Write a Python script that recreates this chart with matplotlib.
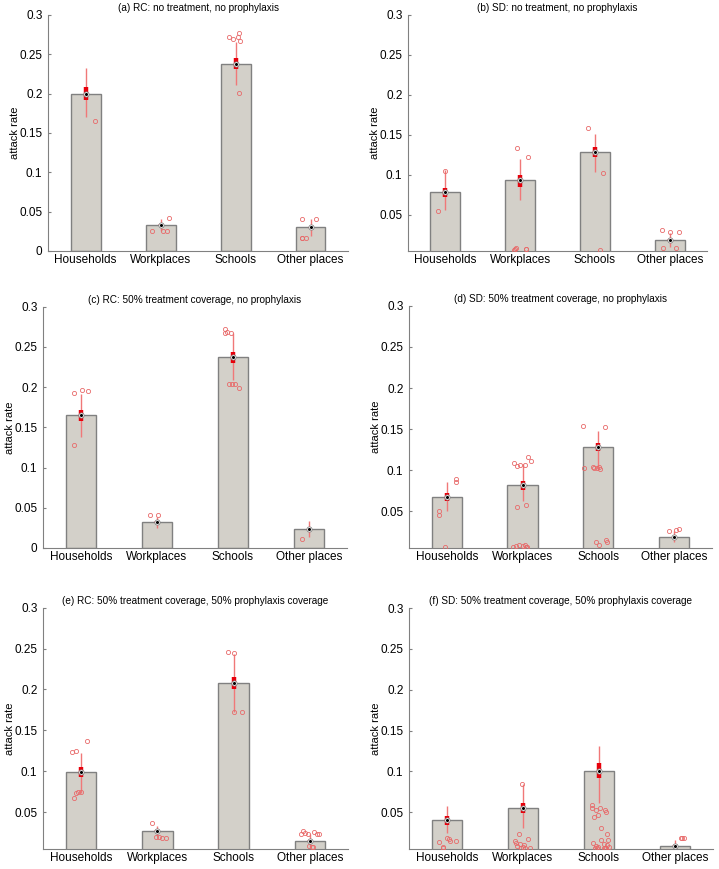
import matplotlib.pyplot as plt

plt.rcParams['font.family'] = ['Liberation Sans', 'DejaVu Sans']

places = ['Households', 'Workplaces', 'Schools', 'Other places']

titles = [
    '(a) RC: no treatment, no prophylaxis',
    '(b) SD: no treatment, no prophylaxis',
    '(c) RC: 50% treatment coverage, no prophylaxis',
    '(d) SD: 50% treatment coverage, no prophylaxis',
    '(e) RC: 50% treatment coverage, 50% prophylaxis coverage',
    '(f) SD: 50% treatment coverage, 50% prophylaxis coverage',
]

# medians (bar heights), box quartiles and whisker ends per panel
medians = [
    [0.200, 0.0335, 0.238, 0.030],
    [0.0783, 0.0933, 0.129, 0.0188],
    [0.165, 0.032, 0.2378, 0.0232],
    [0.0674, 0.0812, 0.128, 0.0178],
    [0.0989, 0.0272, 0.2084, 0.0154],
    [0.0406, 0.0553, 0.101, 0.0092],
]
q_low = [
    [0.192, 0.0325, 0.231, 0.029],
    [0.0729, 0.0854, 0.123, 0.0180],
    [0.158, 0.031, 0.230, 0.0225],
    [0.0626, 0.0755, 0.123, 0.0170],
    [0.0928, 0.0265, 0.2002, 0.0148],
    [0.0345, 0.0488, 0.0917, 0.0088],
]
q_high = [
    [0.208, 0.0345, 0.245, 0.031],
    [0.0833, 0.100, 0.135, 0.0195],
    [0.172, 0.033, 0.244, 0.0240],
    [0.0715, 0.0865, 0.133, 0.0185],
    [0.1058, 0.028, 0.2157, 0.0160],
    [0.0455, 0.0618, 0.110, 0.0096],
]
whisk_low = [
    [0.170, 0.026, 0.211, 0.0187],
    [0.056, 0.069, 0.104, 0.0096],
    [0.138, 0.0253, 0.209, 0.0137],
    [0.0504, 0.062, 0.100, 0.0119],
    [0.0732, 0.0203, 0.173, 0.008],
    [0.0243, 0.0304, 0.0618, 0.008],
]
whisk_high = [
    [0.232, 0.041, 0.266, 0.041],
    [0.106, 0.120, 0.151, 0.027],
    [0.192, 0.0386, 0.267, 0.0336],
    [0.0853, 0.107, 0.148, 0.0263],
    [0.122, 0.0337, 0.244, 0.0235],
    [0.0578, 0.0847, 0.1313, 0.016],
]

# individual run values (y) and their horizontal jitter within the category
run_values = [
    [[0.165],
     [0.026, 0.026, 0.026, 0.042],
     [0.272, 0.269, 0.2715, 0.277, 0.267, 0.201],
     [0.041, 0.041, 0.017, 0.017, 0.017]],
    [[0.105, 0.0554],
     [0.134, 0.123, 0.007, 0.0083, 0.008, 0.007, 0.0056],
     [0.159, 0.103, 0.0065],
     [0.031, 0.029, 0.029, 0.0088, 0.0088]],
    [[0.193, 0.197, 0.195, 0.128],
     [0.0415, 0.0407],
     [0.2726, 0.269, 0.2676, 0.2668, 0.2037, 0.2037, 0.2033, 0.1988],
     [0.0116]],
    [[0.0893, 0.086, 0.050, 0.045, 0.0066],
     [0.108, 0.1055, 0.106, 0.106, 0.116, 0.1116, 0.0545, 0.0569,
      0.0062, 0.0074, 0.0082, 0.0074, 0.009, 0.0062, 0.0058],
     [0.154, 0.153, 0.1035, 0.1035, 0.1027, 0.101, 0.1023, 0.102,
      0.0119, 0.0152, 0.0119, 0.0087],
     [0.0263, 0.0275, 0.0287]],
    [[0.1237, 0.125, 0.137, 0.0679, 0.0732, 0.0744, 0.0748],
     [0.0374, 0.0195, 0.0195, 0.019, 0.019],
     [0.2463, 0.245, 0.173, 0.1726],
     [0.0235, 0.0276, 0.0243, 0.023, 0.026, 0.0235, 0.023, 0.0089, 0.008, 0.008]],
    [[0.014, 0.0079, 0.0063, 0.0181, 0.0169, 0.0145, 0.0149],
     [0.0847, 0.0235, 0.0149, 0.0092, 0.0108, 0.0079, 0.0099, 0.0169,
      0.0059, 0.0059, 0.0059, 0.0128],
     [0.0586, 0.0557, 0.0529, 0.0553, 0.0529, 0.050, 0.0447, 0.0467,
      0.0304, 0.0235, 0.012, 0.0088, 0.016, 0.0157, 0.0112, 0.010,
      0.0067, 0.0059, 0.0075, 0.0067, 0.0057, 0.0075, 0.0059],
     [0.0092, 0.019, 0.019, 0.0183]],
]
run_jitter = [
    [[0.12],
     [-0.116, 0.031, 0.084, 0.107],
     [-0.084, -0.027, 0.031, 0.049, 0.058, 0.04],
     [-0.111, 0.076, -0.12, -0.107, -0.058]],
    [[0.0, -0.098],
     [-0.04, 0.102, -0.071, -0.058, 0.071, 0.084, -0.089],
     [-0.093, 0.107, 0.062],
     [-0.107, 0.0, 0.12, -0.089, 0.084]],
    [[-0.093, 0.013, 0.093, -0.093],
     [-0.089, 0.013],
     [-0.107, -0.076, -0.111, -0.031, -0.049, -0.013, 0.027, 0.084],
     [-0.089]],
    [[0.116, 0.116, -0.098, -0.102, -0.018],
     [-0.116, -0.08, -0.036, 0.027, 0.067, 0.107, -0.08, 0.044,
      -0.124, -0.089, -0.044, 0.0, 0.036, 0.053, 0.04],
     [-0.2, 0.084, -0.071, 0.004, -0.013, 0.027, -0.191, -0.053,
      -0.036, 0.098, 0.111, 0.009],
     [-0.062, 0.027, 0.062]],
    [[-0.116, -0.062, 0.076, -0.098, -0.062, -0.036, 0.0],
     [-0.071, -0.013, 0.022, 0.062, 0.107],
     [-0.076, 0.0, 0.0, 0.111],
     [-0.12, -0.089, -0.058, -0.027, 0.053, 0.089, 0.12, -0.013, 0.022, 0.044]],
    [[-0.102, -0.049, -0.058, 0.0, 0.031, 0.04, 0.116],
     [-0.013, -0.058, -0.111, -0.076, -0.044, -0.004, 0.009, 0.071,
      0.027, 0.093, -0.027, -0.093],
     [-0.089, -0.093, -0.036, 0.018, 0.08, 0.089, -0.071, -0.013,
      0.031, 0.102, -0.08, -0.036, 0.022, 0.12, 0.067, 0.102,
      -0.053, -0.031, -0.013, 0.076, 0.098, 0.133, 0.067],
     [0.0, 0.08, 0.124, 0.098]],
]

y_bottom = [0, 0.005, 0, 0.005, 0.005, 0.005]
y_ticks = [0, 0.05, 0.1, 0.15, 0.2, 0.25, 0.3]
y_tick_labels = ['0', '0.05', '0.1', '0.15', '0.2', '0.25', '0.3']

# axes rectangles in figure fractions [left, bottom, width, height]
positions = [
    [0.0668, 0.7112, 0.4172, 0.2716],
    [0.5675, 0.7112, 0.4160, 0.2716],
    [0.0598, 0.3694, 0.4228, 0.2777],
    [0.5688, 0.3694, 0.4214, 0.2785],
    [0.0598, 0.0230, 0.4242, 0.2777],
    [0.5688, 0.0230, 0.4228, 0.2773],
]

bar_color = '#d3d0c9'
edge_color = '#808080'
point_color = '#e86a6a'

fig = plt.figure(figsize=(7.19, 8.69), dpi=100)

for p in range(6):
    ax = fig.add_axes(positions[p])
    xs = [1, 2, 3, 4]

    # bars at the median
    ax.bar(xs, medians[p], width=0.4, color=bar_color, edgecolor=edge_color,
           linewidth=1.0, zorder=1)

    for i in range(4):
        x = xs[i]
        # whisker
        ax.plot([x, x], [whisk_low[p][i], whisk_high[p][i]], color='#f07878',
                linewidth=1.0, zorder=3, solid_capstyle='butt')
        # run values
        px = [x + d for d in run_jitter[p][i]]
        ax.plot(px, run_values[p][i], linestyle='none', marker='o',
                markersize=3.0, markerfacecolor='none',
                markeredgecolor=point_color, markeredgewidth=0.6, zorder=4)
        # interquartile box
        ax.plot([x, x], [q_low[p][i], q_high[p][i]], color='#e8000b',
                linewidth=3.2, zorder=5, solid_capstyle='butt')
        # median marker
        ax.plot([x], [medians[p][i]], marker='o', markersize=3.8,
                markerfacecolor='white', markeredgecolor='#777777',
                markeredgewidth=0.5, zorder=6)
        ax.plot([x], [medians[p][i]], marker='o', markersize=1.2,
                color='black', zorder=7)

    ax.set_xticks(xs)
    ax.set_xticklabels(places, fontsize=8.5)
    ticks = [t for t in y_ticks if t >= y_bottom[p]]
    labels = [l for t, l in zip(y_ticks, y_tick_labels) if t >= y_bottom[p]]
    ax.set_yticks(ticks)
    ax.set_yticklabels(labels, fontsize=8.5)
    ax.set_xlim(0.5, 4.5)
    ax.set_ylim(y_bottom[p], 0.3)
    ax.tick_params(axis='x', length=0, pad=2)
    ax.tick_params(axis='y', direction='in', length=2.5, color='#808080', pad=4)
    ax.set_ylabel('attack rate', fontsize=8)
    width_px = positions[p][2] * 719
    ax.yaxis.set_label_coords(-28 / width_px, 0.5)
    ax.set_title(titles[p], fontsize=7.2, pad=3)

    ax.spines['top'].set_visible(False)
    ax.spines['right'].set_visible(False)
    ax.spines['left'].set_color('#808080')
    ax.spines['bottom'].set_color('#808080')

plt.savefig('out.png', dpi=100)
plt.close()
